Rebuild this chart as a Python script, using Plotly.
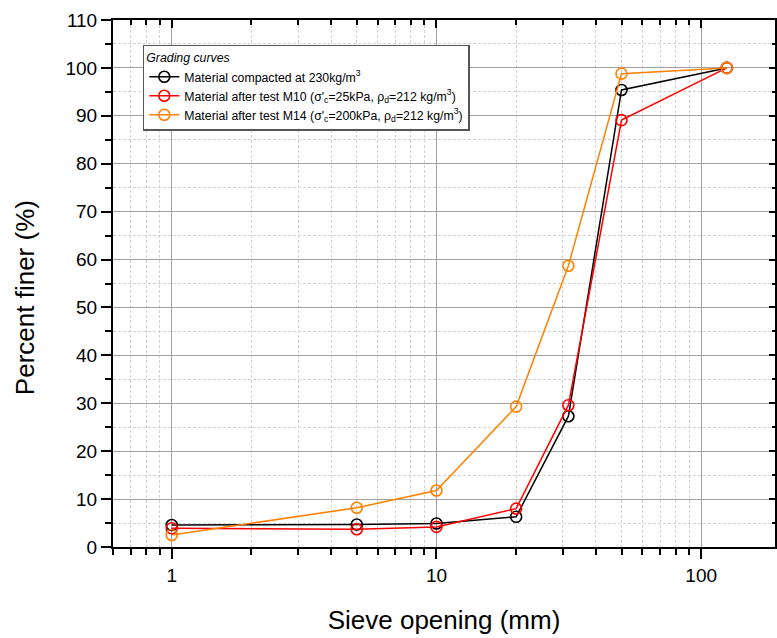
import numpy as np
import plotly.graph_objects as go

sieve = [1, 5, 10, 20, 31.5, 50, 125]
compacted_230 = [4.6, 4.7, 4.9, 6.3, 27.3, 95.4, 100]
after_m10 = [3.9, 3.7, 4.2, 8.0, 29.6, 89.1, 100]
after_m14 = [2.5, 8.2, 11.8, 29.3, 58.7, 98.8, 100]

names = [
    "Material compacted at 230kg/m<sup>3</sup>",
    "Material after test M10 (σ'<sub>c</sub>=25kPa, ρ<sub>d</sub>=212 kg/m<sup>3</sup>)",
    "Material after test M14 (σ'<sub>c</sub>=200kPa, ρ<sub>d</sub>=212 kg/m<sup>3</sup>)",
]
colors = ["#000000", "#ff0000", "#ff8000"]
series = [compacted_230, after_m10, after_m14]

FONT = "Arial, Liberation Sans, sans-serif"
xr = [np.log10(0.6), np.log10(190)]
MINOR_GRID = "#d2d2d2"
MAJOR_GRID = "#a0a0a0"
DASH = "3px,2px"

fig = go.Figure()
for name, col, ys in zip(names, colors, series):
    fig.add_trace(go.Scatter(
        x=sieve, y=ys, name=name, mode="lines+markers",
        line=dict(color=col, width=1.5),
        marker=dict(symbol="circle-open", size=11, color=col, line=dict(width=1.6, color=col)),
    ))

# invisible trace to activate mirror axes
fig.add_trace(go.Scatter(x=[1], y=[0], xaxis="x2", yaxis="y2", mode="markers",
                         marker=dict(opacity=0), showlegend=False, hoverinfo="skip"))

fig.update_layout(
    width=777, height=638,
    margin=dict(l=113, r=2, t=20, b=91),
    paper_bgcolor="white", plot_bgcolor="white",
    font=dict(family=FONT, color="black"),
    xaxis=dict(
        type="log", range=xr,
        tickvals=[1, 10, 100], ticktext=["1", "10", "100"],
        ticks="outside", ticklen=10, tickwidth=2, tickcolor="black",
        tickfont=dict(size=19, family=FONT),
        showline=True, linewidth=2, linecolor="black",
        showgrid=True, gridcolor=MAJOR_GRID, gridwidth=1,
        minor=dict(dtick="D1", ticks="outside", ticklen=6, tickwidth=1.5, tickcolor="black",
                   showgrid=True, gridcolor=MINOR_GRID, griddash=DASH, gridwidth=1),
        title=dict(text="Sieve opening (mm)", font=dict(size=26, family=FONT), standoff=26),
        zeroline=False,
    ),
    yaxis=dict(
        range=[0, 110], dtick=10, tick0=0,
        ticks="outside", ticklen=10, tickwidth=2, tickcolor="black",
        tickfont=dict(size=19, family=FONT),
        showline=True, linewidth=2, linecolor="black",
        showgrid=True, gridcolor=MAJOR_GRID, gridwidth=1,
        minor=dict(dtick=5, ticks="outside", ticklen=6, tickwidth=1.5, tickcolor="black",
                   showgrid=True, gridcolor=MINOR_GRID, griddash=DASH, gridwidth=1),
        zeroline=False,
    ),
    xaxis2=dict(
        type="log", range=xr, overlaying="x", side="top", anchor="y2",
        tickvals=[1, 10, 100], showticklabels=False,
        ticks="inside", ticklen=8, tickwidth=2, tickcolor="black",
        showline=True, linewidth=2, linecolor="black", showgrid=False, zeroline=False,
        minor=dict(dtick="D1", ticks="inside", ticklen=5, tickwidth=1.5, tickcolor="black", showgrid=False),
    ),
    yaxis2=dict(
        range=[0, 110], dtick=10, overlaying="y", side="right", anchor="x2",
        showticklabels=False,
        ticks="inside", ticklen=6, tickwidth=2, tickcolor="black",
        showline=True, linewidth=2, linecolor="black", showgrid=False, zeroline=False,
        minor=dict(dtick=5, ticks="inside", ticklen=3, tickwidth=1.5, tickcolor="black", showgrid=False),
    ),
    legend=dict(
        x=0.045, y=0.953, xanchor="left", yanchor="top",
        bgcolor="white", bordercolor="#555555", borderwidth=1.5,
        font=dict(size=12.3, family=FONT),
        title=dict(text="<i>Grading curves</i>", font=dict(size=12.3, family=FONT)),
        tracegroupgap=0, itemwidth=30,
    ),
    showlegend=True,
    annotations=[dict(
        text="Percent finer (%)", textangle=-90, showarrow=False,
        xref="paper", yref="paper", x=-0.133, y=0.474,
        xanchor="center", yanchor="middle",
        font=dict(size=26, family=FONT, color="black"),
    )],
)

fig.write_html("out.html")
